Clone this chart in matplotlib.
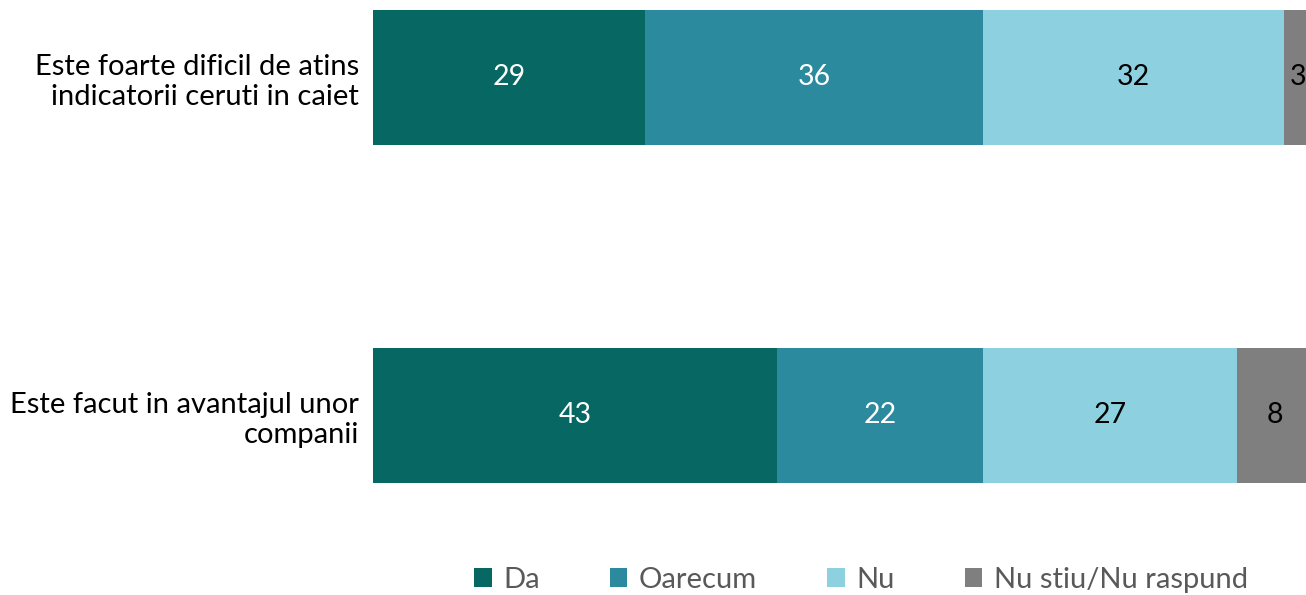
import numpy as np
import matplotlib.pyplot as plt
from matplotlib.patches import Patch

plt.rcParams['font.family'] = ['Lato', 'DejaVu Sans']

# date
categorii = ['Este foarte dificil de atins\nindicatorii ceruti in caiet',
             'Este facut in avantajul unor\ncompanii']
serii = ['Da', 'Oarecum', 'Nu', 'Nu stiu/Nu raspund']
da = [29, 43]
oarecum = [36, 22]
nu = [32, 27]
ns_nr = [3, 8]

culori = ['#066763', '#2B8A9E', '#8DD1E1', '#7F7F7F']
culori_text = ['white', 'white', 'black', 'black']

fig = plt.figure(figsize=(13.06, 5.95), dpi=100)
ax = fig.add_axes([373/1306, (595-483)/595, 1 - 373/1306, (483-9.5)/595])

y = np.arange(len(categorii))
stanga = np.zeros(len(categorii))
for vals, nume, c, ct in zip([da, oarecum, nu, ns_nr], serii, culori, culori_text):
    vals = np.array(vals)
    ax.barh(y, vals, left=stanga, height=0.4, color=c, label=nume)
    for yi, (l, v) in enumerate(zip(stanga, vals)):
        ax.text(l + v / 2, yi, str(v), ha='center', va='center', color=ct, fontsize=20.5)
    stanga += vals

# bara totala iese putin din imagine, ca in original
ax.set_xlim(0, 99.36)
ax.set_ylim(1.2, -0.2)
ax.set_yticks(y)
ax.set_yticklabels(categorii, fontsize=21, color='black', linespacing=1.2)
ax.tick_params(axis='y', length=0, pad=10)
ax.set_xticks([])
for s in ax.spines.values():
    s.set_visible(False)

handles = [Patch(facecolor=c, edgecolor='none') for c in culori]
fig.legend(handles, serii, loc='center', bbox_to_anchor=(861/1306, 1 - 580/595), ncol=4,
           frameon=False, fontsize=21, labelcolor='#595959', handlelength=0.6,
           handleheight=0.6, handletextpad=0.4, columnspacing=2.4)

fig.savefig('out.png', dpi=100)
